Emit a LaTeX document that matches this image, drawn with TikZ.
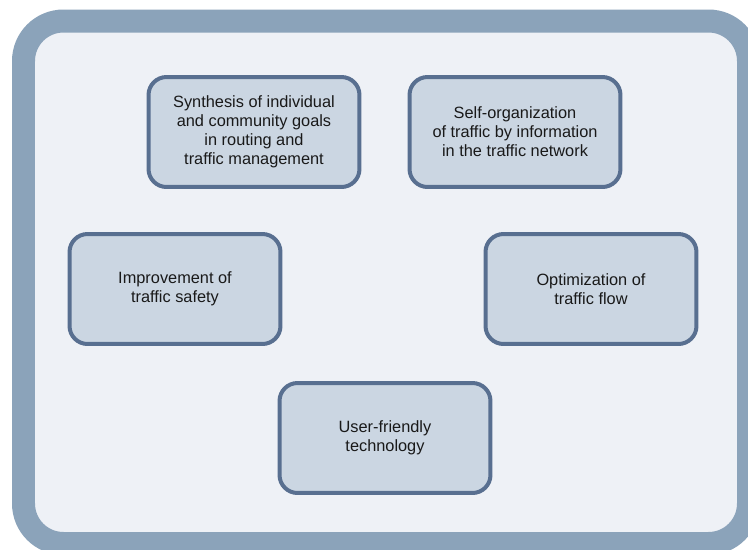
\documentclass[tikz,border=0pt]{standalone}
\usepackage{fontspec}
\setmainfont{Liberation Sans}
\definecolor{framecol}{HTML}{8BA3BA}
\definecolor{panelcol}{HTML}{EEF1F6}
\definecolor{goalfill}{HTML}{CBD6E2}
\definecolor{goalline}{HTML}{586F90}
\begin{document}
\begin{tikzpicture}[x=0.02cm,y=-0.02cm,
  goal/.style={draw=goalline,fill=goalfill,line width=0.08cm,rounded corners=0.36cm,
    minimum width=4.22cm,minimum height=2.2cm,align=center,inner sep=0pt,
    text=black!90,font=\fontsize{9.3}{10.8}\selectfont}]
\useasboundingbox (0,0) rectangle (748,549);
\clip (0,0) rectangle (748,549);
\fill[white] (0,0) rectangle (748,549);
% ---------- frame ----------
\draw[draw=framecol,fill=panelcol,line width=0.46cm,rounded corners=0.8cm]
  (23.5,21) rectangle (748.5,543.5);
% ---------- goals ----------
\node[goal] (synthesis) at (254,132) {Synthesis of individual\\and community goals\\in routing and\\traffic management};
\node[goal] (selforg) at (515,132) {Self-organization\\of traffic by information\\in the traffic network};
\node[goal] (safety) at (175,289) {Improvement of\\traffic safety};
\node[goal] (flow) at (591,289) {Optimization of\\traffic flow};
\node[goal] (userfriendly) at (385,438) {User-friendly\\technology};
\end{tikzpicture}
\end{document}
